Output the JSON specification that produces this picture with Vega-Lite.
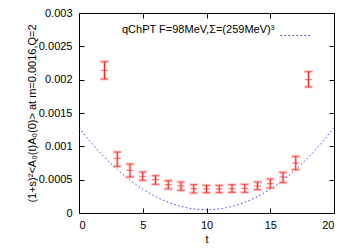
{
  "$schema": "https://vega.github.io/schema/vega-lite/v6.json",
  "width": 255,
  "height": 200,
  "autosize": {"type": "none"},
  "padding": {"left": 79, "top": 13, "right": 20, "bottom": 35},
  "background": "white",
  "config": {
    "view": {"stroke": "black", "strokeWidth": 1},
    "font": "Liberation Sans",
    "axis": {"grid": false, "domain": false, "tickColor": "black", "labelColor": "black", "labelFontSize": 11, "labelFont": "Liberation Sans", "titleFont": "Liberation Sans", "titleFontWeight": "normal", "titleFontSize": 11, "titleColor": "black"}
  },
  "datasets": {
    "pts": [
      {"t": 2, "v": 0.00214, "lo": 0.00201, "hi": 0.00227},
      {"t": 3, "v": 0.00082, "lo": 0.0007, "hi": 0.000915},
      {"t": 4, "v": 0.00064, "lo": 0.00054, "hi": 0.000735},
      {"t": 5, "v": 0.00055, "lo": 0.00049, "hi": 0.000615},
      {"t": 6, "v": 0.0005, "lo": 0.00043, "hi": 0.00056},
      {"t": 7, "v": 0.000425, "lo": 0.00036, "hi": 0.000485},
      {"t": 8, "v": 0.000405, "lo": 0.00034, "hi": 0.000465},
      {"t": 9, "v": 0.000365, "lo": 0.0003, "hi": 0.000425},
      {"t": 10, "v": 0.00036, "lo": 0.000305, "hi": 0.000415},
      {"t": 11, "v": 0.00036, "lo": 0.000305, "hi": 0.000415},
      {"t": 12, "v": 0.000365, "lo": 0.00031, "hi": 0.000425},
      {"t": 13, "v": 0.00037, "lo": 0.00031, "hi": 0.00043},
      {"t": 14, "v": 0.000405, "lo": 0.00035, "hi": 0.000465},
      {"t": 15, "v": 0.00044, "lo": 0.000375, "hi": 0.00051},
      {"t": 16, "v": 0.00054, "lo": 0.000455, "hi": 0.00061},
      {"t": 17, "v": 0.00075, "lo": 0.00065, "hi": 0.00085},
      {"t": 18, "v": 0.002, "lo": 0.00189, "hi": 0.00212}
    ],
    "curve": [
      {"t": 0, "f": 0.00128},
      {"t": 1, "f": 0.001046},
      {"t": 2, "f": 0.000837},
      {"t": 3, "f": 0.000653},
      {"t": 4, "f": 0.000493},
      {"t": 5, "f": 0.000358},
      {"t": 6, "f": 0.000247},
      {"t": 7, "f": 0.000161},
      {"t": 8, "f": 0.000099},
      {"t": 9, "f": 0.000062},
      {"t": 10, "f": 0.00005},
      {"t": 11, "f": 0.000062},
      {"t": 12, "f": 0.000099},
      {"t": 13, "f": 0.000161},
      {"t": 14, "f": 0.000247},
      {"t": 15, "f": 0.000358},
      {"t": 16, "f": 0.000493},
      {"t": 17, "f": 0.000653},
      {"t": 18, "f": 0.000837},
      {"t": 19, "f": 0.001046},
      {"t": 20, "f": 0.00128}
    ]
  },
  "resolve": {"axis": {"x": "independent", "y": "independent"}},
  "layer": [
    {
      "data": {"name": "curve"},
      "mark": {"type": "line", "interpolate": "monotone", "strokeWidth": 1, "strokeDash": [1.5, 2.5], "clip": true},
      "encoding": {
        "x": {"field": "t", "type": "quantitative", "scale": {"domain": [0, 20], "nice": false},
          "axis": {"orient": "bottom", "values": [0, 5, 10, 15, 20], "ticks": false, "title": "t", "labelPadding": 6, "titlePadding": 3}},
        "y": {"field": "f", "type": "quantitative", "scale": {"domain": [0, 0.003], "nice": false},
          "axis": {"orient": "left", "values": [0, 0.0005, 0.001, 0.0015, 0.002, 0.0025, 0.003], "ticks": false, "format": "~g", "title": "(1+s)²<A₀(t)A₀(0)> at m=0.0016,Q=2", "labelPadding": 7, "titlePadding": 1}},
        "color": {"datum": "q", "scale": {"range": ["#3a3aff"]},
          "legend": {"orient": "none", "legendX": 43, "legendY": 7, "title": "qChPT F=98MeV,Σ=(259MeV)³", "titleOrient": "left", "titleFontWeight": "normal", "titleFontSize": 11, "titleColor": "black", "titleFont": "Liberation Sans", "labelExpr": "''", "symbolType": "stroke", "symbolSize": 900, "symbolStrokeWidth": 1, "symbolDash": [1.5, 2.5], "symbolStrokeColor": "#3a3aff", "labelLimit": 1}}
      }
    },
    {
      "data": {"name": "pts"},
      "mark": {"type": "rule", "color": "#ff9a9a", "strokeWidth": 3, "opacity": 0.5},
      "encoding": {
        "x": {"field": "t", "type": "quantitative", "axis": {"orient": "top", "values": [0, 5, 10, 15, 20], "labels": false, "title": null, "tickSize": 5, "offset": -5}},
        "y": {"field": "lo", "type": "quantitative", "axis": {"orient": "right", "values": [0, 0.0005, 0.001, 0.0015, 0.002, 0.0025, 0.003], "labels": false, "title": null, "tickSize": 5, "offset": -5}},
        "y2": {"field": "hi"}
      }
    },
    {
      "data": {"name": "pts"},
      "mark": {"type": "tick", "orient": "horizontal", "color": "#ff9a9a", "thickness": 3, "size": 9, "opacity": 0.5},
      "encoding": {
        "x": {"field": "t", "type": "quantitative", "axis": {"orient": "bottom", "values": [0, 5, 10, 15, 20], "labels": false, "title": null, "tickSize": 5, "offset": -5}},
        "y": {"field": "lo", "type": "quantitative", "axis": {"orient": "left", "values": [0, 0.0005, 0.001, 0.0015, 0.002, 0.0025, 0.003], "labels": false, "title": null, "tickSize": 5, "offset": -5}}
      }
    },
    {
      "data": {"name": "pts"},
      "mark": {"type": "tick", "orient": "horizontal", "color": "#ff9a9a", "thickness": 3, "size": 9, "opacity": 0.5},
      "encoding": {
        "x": {"field": "t", "type": "quantitative", "axis": null},
        "y": {"field": "hi", "type": "quantitative", "axis": null}
      }
    },
    {
      "data": {"name": "pts"},
      "mark": {"type": "rule", "color": "#ff2020", "strokeWidth": 1},
      "encoding": {
        "x": {"field": "t", "type": "quantitative", "axis": null},
        "y": {"field": "lo", "type": "quantitative", "axis": null},
        "y2": {"field": "hi"}
      }
    },
    {
      "data": {"name": "pts"},
      "mark": {"type": "tick", "orient": "horizontal", "color": "#ff2020", "thickness": 1, "size": 7},
      "encoding": {
        "x": {"field": "t", "type": "quantitative", "axis": null},
        "y": {"field": "lo", "type": "quantitative", "axis": null}
      }
    },
    {
      "data": {"name": "pts"},
      "mark": {"type": "tick", "orient": "horizontal", "color": "#ff2020", "thickness": 1, "size": 7},
      "encoding": {
        "x": {"field": "t", "type": "quantitative", "axis": null},
        "y": {"field": "hi", "type": "quantitative", "axis": null}
      }
    },
    {
      "data": {"name": "pts"},
      "mark": {"type": "tick", "orient": "horizontal", "color": "#ff2020", "thickness": 1, "size": 7},
      "encoding": {
        "x": {"field": "t", "type": "quantitative", "axis": null},
        "y": {"field": "v", "type": "quantitative", "axis": null}
      }
    }
  ]
}
